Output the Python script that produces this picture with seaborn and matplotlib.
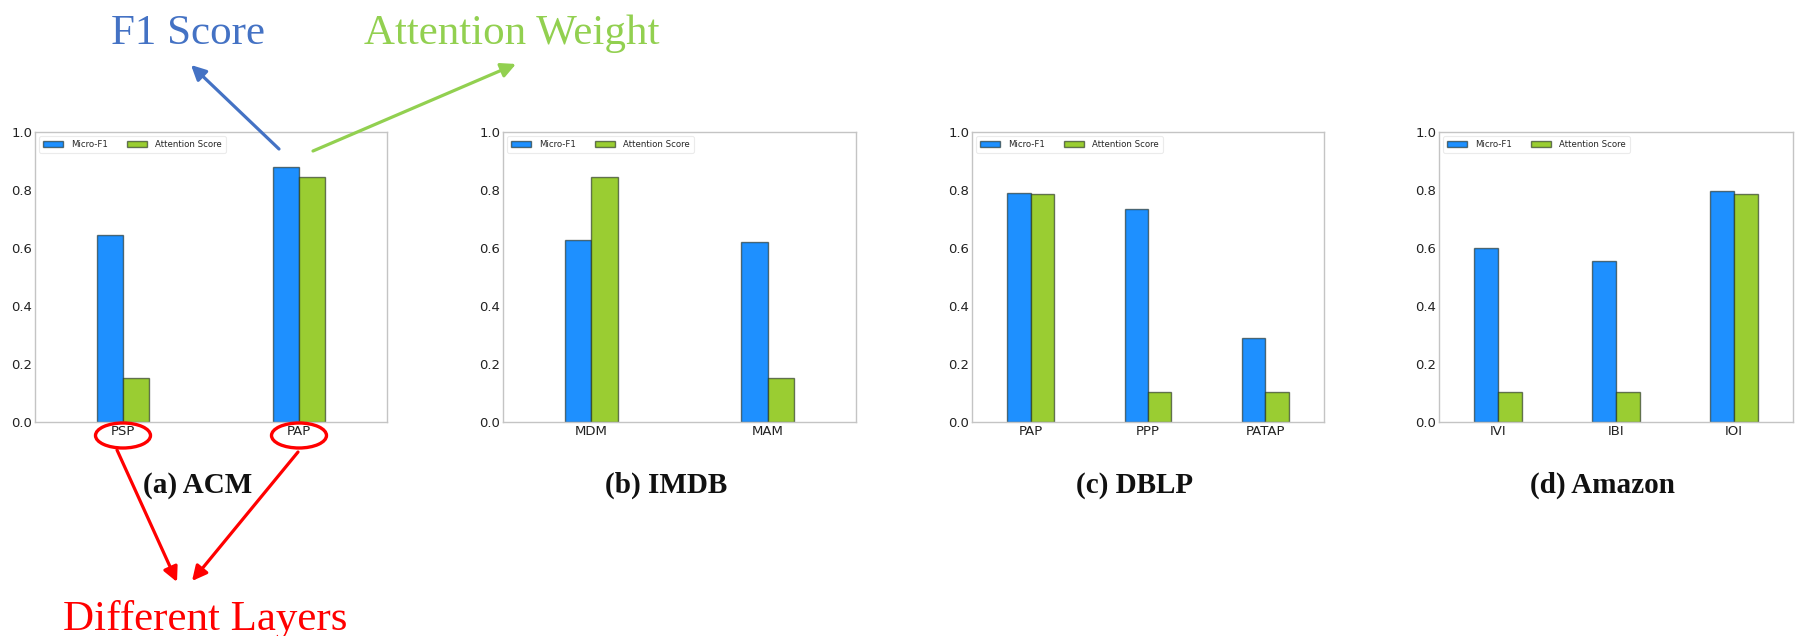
import numpy as np
import pandas as pd
import seaborn as sns
import matplotlib.pyplot as plt
from matplotlib.patches import Ellipse, FancyArrowPatch

sns.set_theme(style="white")
plt.rcParams["font.family"] = ["DejaVu Sans"]

# ---- data -------------------------------------------------------------
acm_paths = ["PSP", "PAP"]
acm_f1 = [0.645, 0.880]
acm_att = [0.152, 0.846]

imdb_paths = ["MDM", "MAM"]
imdb_f1 = [0.627, 0.619]
imdb_att = [0.846, 0.152]

dblp_paths = ["PAP", "PPP", "PATAP"]
dblp_f1 = [0.790, 0.736, 0.291]
dblp_att = [0.787, 0.104, 0.104]

amazon_paths = ["IVI", "IBI", "IOI"]
amazon_f1 = [0.601, 0.556, 0.797]
amazon_att = [0.104, 0.104, 0.787]

captions = ["(a) ACM", "(b) IMDB", "(c) DBLP", "(d) Amazon"]
series_names = ["Micro-F1", "Attention Score"]
yticks = [0.0, 0.2, 0.4, 0.6, 0.8, 1.0]

BLUE = "#1E90FF"
GREEN = "#9ACD32"

# ---- figure -----------------------------------------------------------
W, H = 1800, 636
fig = plt.figure(figsize=(W / 100, H / 100), dpi=100)


def fx(x):
    return x / W


def fy(y):
    return 1 - y / H


# axes boxes in pixels: left, right, top, bottom
boxes = [(35, 387, 132, 422), (503, 856, 132, 422),
         (972, 1324, 132, 422), (1439, 1793, 132, 422)]
datasets = [(acm_paths, acm_f1, acm_att), (imdb_paths, imdb_f1, imdb_att),
            (dblp_paths, dblp_f1, dblp_att), (amazon_paths, amazon_f1, amazon_att)]

axes = []
for (l, r, t, b), (paths, f1, att), cap in zip(boxes, datasets, captions):
    ax = fig.add_axes([fx(l), fy(b), fx(r - l), (b - t) / H])
    n = len(paths)
    df = pd.DataFrame({
        "path": paths * 2,
        "metric": [series_names[0]] * n + [series_names[1]] * n,
        "value": list(f1) + list(att),
    })
    sns.barplot(data=df, x="path", y="value", hue="metric",
                palette=[BLUE, GREEN], saturation=1, width=0.3 if n == 2 else 0.4,
                edgecolor=(0.1, 0.15, 0.1, 0.6), linewidth=1.0, ax=ax, errorbar=None)
    ax.set_ylim(0, 1)
    ax.set_yticks(yticks)
    ax.set_yticklabels([f"{v:.1f}" for v in yticks])
    ax.set_xlabel("")
    ax.set_ylabel("")
    ax.tick_params(axis="both", length=0, pad=2, labelsize=9.5, colors="#222222")
    for s in ax.spines.values():
        s.set_color("#c4c4c4")
        s.set_linewidth(1.0)
    leg = ax.legend(loc="upper left", ncol=2, fontsize=6.2, frameon=True,
                    handlelength=2.3, handleheight=0.75, columnspacing=2.2,
                    borderaxespad=0.45, borderpad=0.45, handletextpad=1.0)
    leg.get_frame().set_edgecolor("#e6e6e6")
    leg.get_frame().set_linewidth(0.8)
    for p in leg.get_patches():
        p.set_edgecolor((0.1, 0.15, 0.1, 0.6))
    fig.text(fx((l + r) / 2 - 13), fy(493), cap, ha="center", va="baseline",
             family="Liberation Serif", weight="bold", fontsize=21, color="#111111")
    axes.append(ax)

# ---- annotations --------------------------------------------------------
serif = "Liberation Serif"
fig.text(fx(188), fy(44), "F1 Score", ha="center", va="baseline",
         family=serif, fontsize=31, color="#4472C4")
fig.text(fx(512), fy(44), "Attention Weight", ha="center", va="baseline",
         family=serif, fontsize=31, color="#92D050")
fig.text(fx(205), fy(630), "Different Layers", ha="center", va="baseline",
         family=serif, fontsize=31, color="#FF0000")


def arrow(p0, p1, color):
    fig.add_artist(FancyArrowPatch((fx(p0[0]), fy(p0[1])), (fx(p1[0]), fy(p1[1])),
                                   transform=fig.transFigure, arrowstyle="-|>",
                                   mutation_scale=22, linewidth=2.3, color=color,
                                   shrinkA=0, shrinkB=0))


arrow((279, 149), (191, 65), "#4472C4")
arrow((313, 151), (516, 64), "#92D050")
arrow((117, 450), (177, 582), "#FF0000")
arrow((298, 452), (192, 581), "#FF0000")

# red ellipses around the ACM tick labels, centred on the category positions
fig.canvas.draw()
ax0 = axes[0]
for i in range(len(acm_paths)):
    xd = ax0.transData.transform((i, 0))[0]
    xf = fig.transFigure.inverted().transform((xd, 0))[0]
    fig.add_artist(Ellipse((xf, fy(435.5)), 55 / W, 25 / H, transform=fig.transFigure,
                           fill=False, edgecolor="#FF0000", linewidth=2.4))

fig.savefig("out.png", dpi=100, facecolor="white")
